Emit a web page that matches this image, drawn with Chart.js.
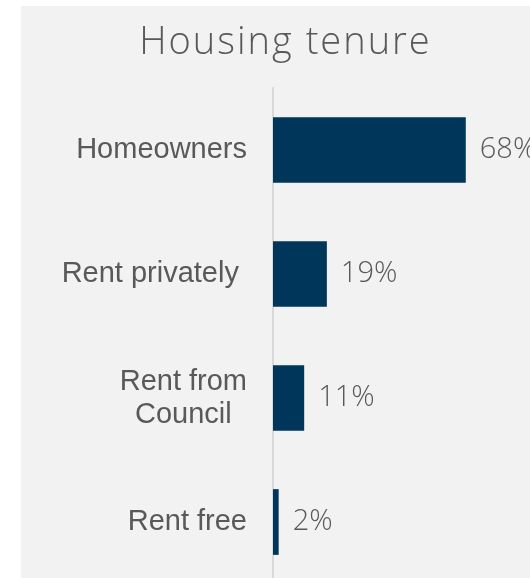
<!DOCTYPE html>
<html>
<head>
<meta charset="utf-8">
<title>Housing tenure</title>
<script src="https://cdn.jsdelivr.net/npm/chart.js@4/dist/chart.umd.min.js"></script>
<style>
  html, body { margin: 0; padding: 0; background: #ffffff; overflow: hidden; }
  body { width: 530px; height: 578px; position: relative; }
  #wrap { position: absolute; left: 21px; top: 6px; width: 527px; height: 578px; background: #f2f2f2; }
</style>
</head>
<body>
<div id="wrap"><canvas id="tenure-chart" width="527" height="578"></canvas></div>
<script>
// Housing tenure shares (%)
const chartTitle = "Housing tenure";
const categories = [["Homeowners"], ["Rent privately "], ["Rent from", "Council"], ["Rent free"]];
const shares = [68, 19, 11, 2];
const valueLabels = ["68%", "19%", "11%", "2%"];

const textGrey = "#595959";

// title, category names (right-aligned block, lines centred) and value labels
const labelPlugin = {
    id: "tenureLabels",
    afterDatasetsDraw(chart) {
        const ctx = chart.ctx;
        const yScale = chart.scales.y;
        const meta = chart.getDatasetMeta(0);
        ctx.save();
        ctx.fillStyle = textGrey;

        // title
        ctx.font = "300 38px 'Open Sans', sans-serif";
        ctx.textAlign = "left";
        ctx.textBaseline = "alphabetic";
        ctx.letterSpacing = "2px";
        const tw = ctx.measureText(chartTitle).width - 2;
        ctx.fillText(chartTitle, chart.width / 2 - tw / 2, 48);
        ctx.letterSpacing = "0px";

        ctx.textBaseline = "middle";
        ctx.font = "29px 'Liberation Sans', Arial, sans-serif";
        const right = chart.chartArea.left - 26;
        const lineH = 33;
        categories.forEach((lines, i) => {
            const y = yScale.getPixelForValue(i);
            const blockW = Math.max(...lines.map((l) => ctx.measureText(l).width));
            const cx = right - blockW / 2;
            ctx.textAlign = "center";
            lines.forEach((l, j) => {
                ctx.fillText(l, cx, y + (j - (lines.length - 1) / 2) * lineH);
            });
        });

        ctx.font = "300 29px 'Open Sans', sans-serif";
        ctx.textAlign = "left";
        meta.data.forEach((bar, i) => {
            ctx.fillText(valueLabels[i], bar.x + 14, bar.y);
        });
        ctx.restore();
    },
};

new Chart(document.getElementById("tenure-chart"), {
    type: "bar",
    data: {
        labels: categories,
        datasets: [
            {
                data: shares,
                backgroundColor: "#00365a",
                borderWidth: 0,
                barPercentage: 0.53,
                categoryPercentage: 1,
            },
        ],
    },
    options: {
        indexAxis: "y",
        responsive: false,
        animation: false,
        layout: { padding: { top: 82, left: 0, right: 0, bottom: 0 } },
        scales: {
            x: {
                display: false,
                min: 0,
                max: 97,
            },
            y: {
                grid: { display: false },
                border: { display: true, color: "#d9d9d9", width: 2 },
                ticks: { display: false },
                afterFit(scale) {
                    scale.width = 252;
                },
            },
        },
        plugins: {
            legend: { display: false },
            tooltip: { enabled: false },
            title: { display: false },
        },
    },
    plugins: [labelPlugin],
});
</script>
</body>
</html>
